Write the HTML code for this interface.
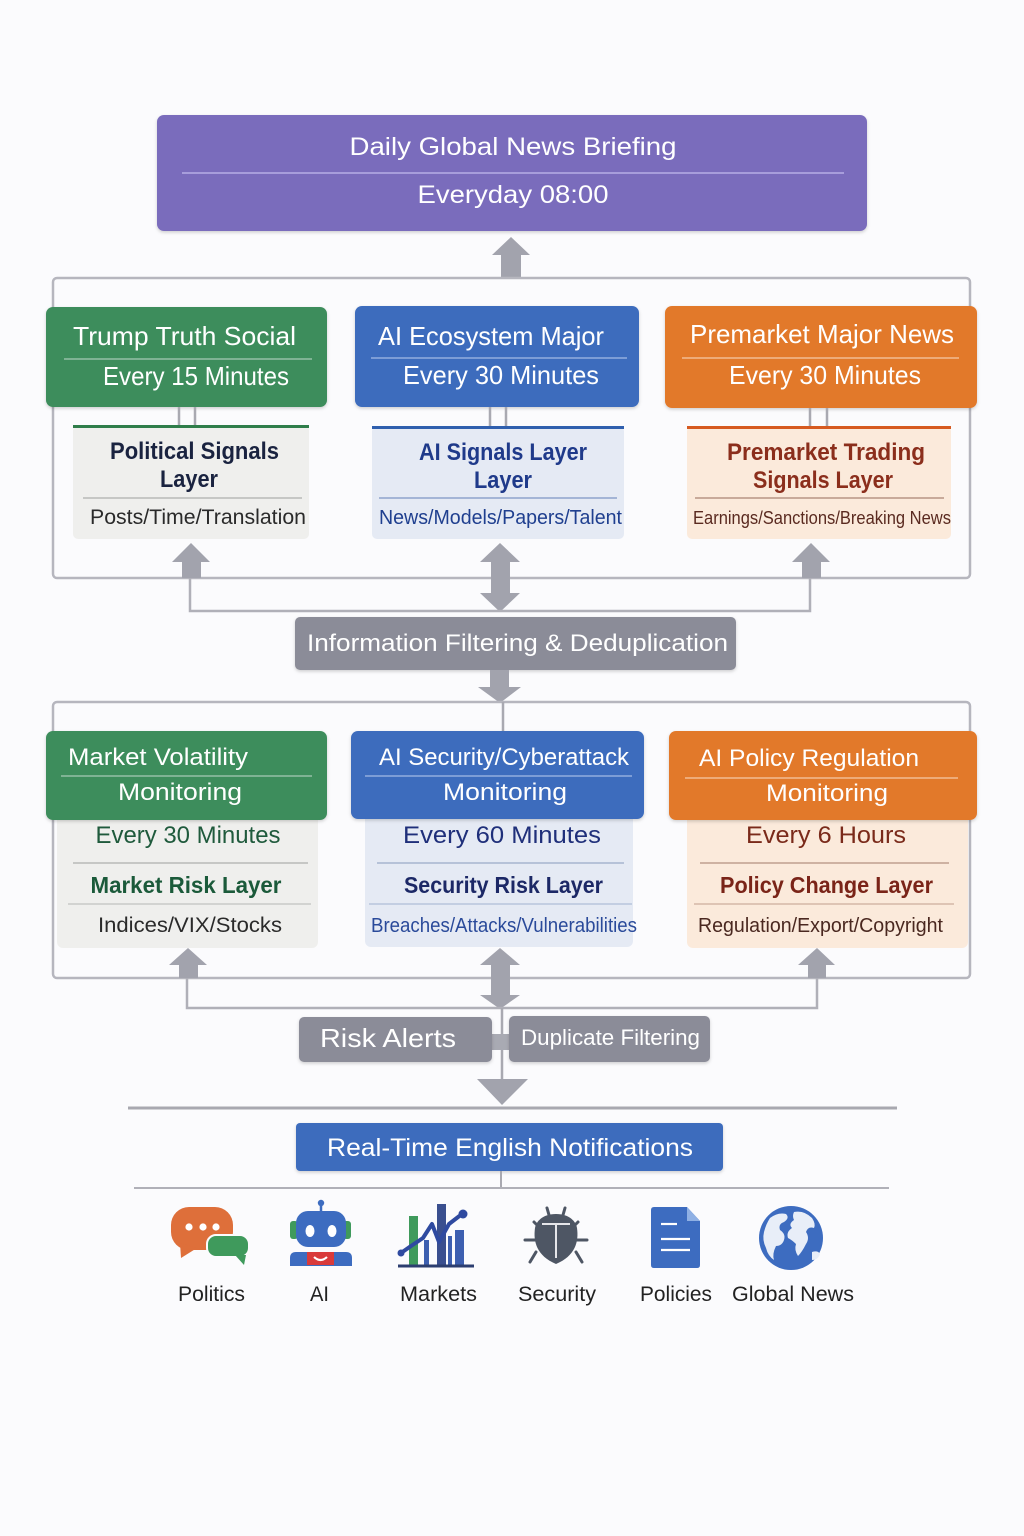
<!DOCTYPE html>
<html><head><meta charset="utf-8"><style>
html,body{margin:0;padding:0;background:#fbfbfd;}
svg{display:block;}
text{font-family:"Liberation Sans",Arial,sans-serif;}
</style></head><body>
<svg width="1024" height="1536" viewBox="0 0 1024 1536" xmlns="http://www.w3.org/2000/svg">
<defs>
<filter id="sh" x="-5%" y="-10%" width="110%" height="130%"><feDropShadow dx="0" dy="1.5" stdDeviation="1.5" flood-color="#000" flood-opacity="0.18"/></filter>
</defs>
<rect width="1024" height="1536" fill="#fbfbfd"/>

<!-- Top purple box -->
<rect x="157" y="115" width="710" height="116" rx="7" fill="#7a6cbc" filter="url(#sh)"/>
<line x1="182" y1="173" x2="844" y2="173" stroke="#a79ddb" stroke-width="2"/>
<text x="513" y="155" font-size="25" fill="#fff" text-anchor="middle" textLength="327" lengthAdjust="spacingAndGlyphs">Daily Global News Briefing</text>
<text x="513" y="203" font-size="25" fill="#fff" text-anchor="middle" textLength="191" lengthAdjust="spacingAndGlyphs">Everyday 08:00</text>

<!-- top arrow -->
<polygon points="511,237 492,255 501,255 501,278 521,278 521,255 530,255" fill="#a2a3ad"/>

<!-- top container -->
<rect x="53" y="278" width="917" height="300" rx="4" fill="none" stroke="#b6b6be" stroke-width="2.5"/>

<!-- header boxes row 1 -->
<rect x="46" y="307" width="281" height="100" rx="7" fill="#3e8d5b" filter="url(#sh)"/>
<line x1="64" y1="359" x2="312" y2="359" stroke="#7fb394" stroke-width="2"/>
<text x="184.5" y="345" font-size="26" fill="#fff" text-anchor="middle" textLength="223" lengthAdjust="spacingAndGlyphs">Trump Truth Social</text>
<text x="196" y="385" font-size="26" fill="#fff" text-anchor="middle" textLength="186" lengthAdjust="spacingAndGlyphs">Every 15 Minutes</text>

<rect x="355" y="306" width="284" height="101" rx="7" fill="#3c6cbd" filter="url(#sh)"/>
<line x1="371" y1="358" x2="627" y2="358" stroke="#7d9dd6" stroke-width="2"/>
<text x="491" y="345" font-size="26" fill="#fff" text-anchor="middle" textLength="226" lengthAdjust="spacingAndGlyphs">AI Ecosystem Major</text>
<text x="501" y="384" font-size="26" fill="#fff" text-anchor="middle" textLength="196" lengthAdjust="spacingAndGlyphs">Every 30 Minutes</text>

<rect x="665" y="306" width="312" height="102" rx="7" fill="#e2792a" filter="url(#sh)"/>
<line x1="682" y1="358" x2="959" y2="358" stroke="#eeab78" stroke-width="2"/>
<text x="822" y="343" font-size="26" fill="#fff" text-anchor="middle" textLength="264" lengthAdjust="spacingAndGlyphs">Premarket Major News</text>
<text x="825" y="384" font-size="26" fill="#fff" text-anchor="middle" textLength="192" lengthAdjust="spacingAndGlyphs">Every 30 Minutes</text>

<!-- double connectors -->
<g stroke="#a9a9b1" stroke-width="2.5">
<line x1="179" y1="407" x2="179" y2="426"/><line x1="195" y1="407" x2="195" y2="426"/>
<line x1="490" y1="407" x2="490" y2="427"/><line x1="506" y1="407" x2="506" y2="427"/>
<line x1="810" y1="408" x2="810" y2="427"/><line x1="827" y1="408" x2="827" y2="427"/>
</g>

<!-- sub boxes row 1 -->
<rect x="73" y="425" width="236" height="114" rx="5" fill="#efefed"/>
<rect x="73" y="425" width="236" height="3" fill="#2f7d4a"/>
<line x1="83" y1="498" x2="302" y2="498" stroke="#b9bab8" stroke-width="1.5"/>
<text x="194.5" y="459" font-size="24" font-weight="bold" fill="#1a2340" text-anchor="middle" textLength="169" lengthAdjust="spacingAndGlyphs">Political Signals</text>
<text x="189" y="487" font-size="24" font-weight="bold" fill="#1a2340" text-anchor="middle" textLength="58" lengthAdjust="spacingAndGlyphs">Layer</text>
<text x="198" y="524" font-size="21" fill="#2a2a2a" text-anchor="middle" textLength="216" lengthAdjust="spacingAndGlyphs">Posts/Time/Translation</text>

<rect x="372" y="426" width="252" height="113" rx="5" fill="#e5eaf4"/>
<rect x="372" y="426" width="252" height="3" fill="#2f5fae"/>
<line x1="379" y1="498" x2="617" y2="498" stroke="#8fa3cc" stroke-width="1.5"/>
<text x="503" y="460" font-size="24" font-weight="bold" fill="#1f3a8a" text-anchor="middle" textLength="168" lengthAdjust="spacingAndGlyphs">AI Signals Layer</text>
<text x="503" y="488" font-size="24" font-weight="bold" fill="#1f3a8a" text-anchor="middle" textLength="58" lengthAdjust="spacingAndGlyphs">Layer</text>
<text x="500.5" y="524" font-size="20" fill="#1f3f8f" text-anchor="middle" textLength="243" lengthAdjust="spacingAndGlyphs">News/Models/Papers/Talent</text>

<rect x="687" y="426" width="264" height="113" rx="5" fill="#fbeadb"/>
<rect x="687" y="426" width="264" height="3" fill="#d65a20"/>
<line x1="695" y1="498" x2="944" y2="498" stroke="#b89484" stroke-width="1.5"/>
<text x="826" y="460" font-size="24" font-weight="bold" fill="#8b2e1c" text-anchor="middle" textLength="198" lengthAdjust="spacingAndGlyphs">Premarket Trading</text>
<text x="823" y="488" font-size="24" font-weight="bold" fill="#8b2e1c" text-anchor="middle" textLength="140" lengthAdjust="spacingAndGlyphs">Signals Layer</text>
<text x="822" y="524" font-size="18" fill="#5a2a20" text-anchor="middle" textLength="258" lengthAdjust="spacingAndGlyphs">Earnings/Sanctions/Breaking News</text>

<!-- arrows row 1 bottom -->
<g fill="#a2a3ad">
<polygon points="191,543 172,562 182,562 182,578 201,578 201,562 210,562"/>
<polygon points="811,543 792,562 802,562 802,578 821,578 821,562 830,562"/>
<polygon points="500,543 480,562 491,562 491,593 480,593 500,612 520,593 510,593 510,562 520,562"/>
</g>
<g stroke="#b0b0b8" stroke-width="2.5" fill="none">
<polyline points="190,578 190,611 810,611 810,578"/>
</g>

<!-- filter box -->
<rect x="295" y="617" width="441" height="53" rx="5" fill="#8b8c98" filter="url(#sh)"/>
<text x="517.5" y="651" font-size="24" fill="#fff" text-anchor="middle" textLength="421" lengthAdjust="spacingAndGlyphs">Information Filtering &amp; Deduplication</text>
<polygon points="490,670 509,670 509,687 521,687 500,703 478,687 490,687" fill="#a2a3ad"/>

<!-- second container -->
<rect x="53" y="702" width="917" height="276" rx="4" fill="none" stroke="#b6b6be" stroke-width="2.5"/>
<line x1="503" y1="702" x2="503" y2="731" stroke="#a9a9b1" stroke-width="2.5"/>

<!-- row 2 sub boxes (behind headers) -->
<rect x="57" y="812" width="261" height="136" rx="6" fill="#efefed"/>
<rect x="365" y="812" width="268" height="135" rx="6" fill="#e5eaf4"/>
<rect x="687" y="812" width="281" height="136" rx="6" fill="#fbeadb"/>

<!-- row 2 headers -->
<rect x="46" y="731" width="281" height="89" rx="7" fill="#3e8d5b" filter="url(#sh)"/>
<line x1="61" y1="776" x2="312" y2="776" stroke="#7fb394" stroke-width="2"/>
<text x="68" y="765" font-size="24" fill="#fff" textLength="180" lengthAdjust="spacingAndGlyphs">Market Volatility</text>
<text x="180" y="800" font-size="24" fill="#fff" text-anchor="middle" textLength="124" lengthAdjust="spacingAndGlyphs">Monitoring</text>

<rect x="351" y="731" width="293" height="88" rx="7" fill="#3c6cbd" filter="url(#sh)"/>
<line x1="365" y1="776" x2="632" y2="776" stroke="#7d9dd6" stroke-width="2"/>
<text x="504" y="765" font-size="24" fill="#fff" text-anchor="middle" textLength="250" lengthAdjust="spacingAndGlyphs">AI Security/Cyberattack</text>
<text x="505" y="800" font-size="24" fill="#fff" text-anchor="middle" textLength="124" lengthAdjust="spacingAndGlyphs">Monitoring</text>

<rect x="669" y="731" width="308" height="89" rx="7" fill="#e2792a" filter="url(#sh)"/>
<line x1="685" y1="778" x2="958" y2="778" stroke="#eeab78" stroke-width="2"/>
<text x="809" y="766" font-size="24" fill="#fff" text-anchor="middle" textLength="220" lengthAdjust="spacingAndGlyphs">AI Policy Regulation</text>
<text x="827" y="801" font-size="24" fill="#fff" text-anchor="middle" textLength="122" lengthAdjust="spacingAndGlyphs">Monitoring</text>

<!-- row 2 sub content -->
<text x="188" y="843" font-size="24" fill="#1f5a3c" text-anchor="middle" textLength="185" lengthAdjust="spacingAndGlyphs">Every 30 Minutes</text>
<line x1="73" y1="863" x2="308" y2="863" stroke="#b9bab8" stroke-width="1.5"/>
<text x="186" y="893" font-size="23" font-weight="bold" fill="#1b5a3a" text-anchor="middle" textLength="191" lengthAdjust="spacingAndGlyphs">Market Risk Layer</text>
<line x1="68" y1="904" x2="311" y2="904" stroke="#c9cac8" stroke-width="1.5"/>
<text x="190" y="932" font-size="21" fill="#2a2a2a" text-anchor="middle" textLength="184" lengthAdjust="spacingAndGlyphs">Indices/VIX/Stocks</text>

<text x="502" y="843" font-size="24" fill="#1f2f7a" text-anchor="middle" textLength="198" lengthAdjust="spacingAndGlyphs">Every 60 Minutes</text>
<line x1="377" y1="863" x2="624" y2="863" stroke="#a7b4cf" stroke-width="1.5"/>
<text x="503.5" y="893" font-size="23" font-weight="bold" fill="#1c2866" text-anchor="middle" textLength="199" lengthAdjust="spacingAndGlyphs">Security Risk Layer</text>
<line x1="369" y1="904" x2="632" y2="904" stroke="#b8c4dc" stroke-width="1.5"/>
<text x="504" y="932" font-size="20" fill="#2a4a9a" text-anchor="middle" textLength="266" lengthAdjust="spacingAndGlyphs">Breaches/Attacks/Vulnerabilities</text>

<text x="826" y="843" font-size="24" fill="#7a2a1a" text-anchor="middle" textLength="160" lengthAdjust="spacingAndGlyphs">Every 6 Hours</text>
<line x1="700" y1="863" x2="949" y2="863" stroke="#c0a090" stroke-width="1.5"/>
<text x="826.5" y="893" font-size="23" font-weight="bold" fill="#7a2418" text-anchor="middle" textLength="213" lengthAdjust="spacingAndGlyphs">Policy Change Layer</text>
<line x1="694" y1="904" x2="954" y2="904" stroke="#d4b8a8" stroke-width="1.5"/>
<text x="820.5" y="932" font-size="20" fill="#4a2820" text-anchor="middle" textLength="245" lengthAdjust="spacingAndGlyphs">Regulation/Export/Copyright</text>

<!-- arrows row 2 bottom -->
<g fill="#a2a3ad">
<polygon points="188,948 169,965 179,965 179,978 198,978 198,965 207,965"/>
<polygon points="817,948 798,965 808,965 808,978 826,978 826,965 835,965"/>
<polygon points="500,948 480,965 491,965 491,995 480,995 500,1009 520,995 510,995 510,965 520,965"/>
</g>
<polyline points="187,978 187,1008 817,1008 817,978" stroke="#b0b0b8" stroke-width="2.5" fill="none"/>
<line x1="502" y1="1008" x2="502" y2="1082" stroke="#a9a9b1" stroke-width="2.5"/>
<rect x="491" y="1034" width="19" height="16" fill="#a9aab3"/>

<rect x="299" y="1017" width="193" height="45" rx="5" fill="#8b8c98" filter="url(#sh)"/>
<text x="388" y="1047" font-size="26" fill="#fff" text-anchor="middle" textLength="136" lengthAdjust="spacingAndGlyphs">Risk Alerts</text>
<rect x="509" y="1016" width="201" height="46" rx="5" fill="#8b8c98" filter="url(#sh)"/>
<text x="610.5" y="1045" font-size="22" fill="#fff" text-anchor="middle" textLength="179" lengthAdjust="spacingAndGlyphs">Duplicate Filtering</text>

<polygon points="477,1079 528,1079 502,1105" fill="#a2a3ad"/>
<line x1="128" y1="1108" x2="897" y2="1108" stroke="#a8a8b0" stroke-width="3"/>

<rect x="296" y="1123" width="427" height="48" rx="4" fill="#3c6cbd" filter="url(#sh)"/>
<text x="510" y="1156" font-size="25" fill="#fff" text-anchor="middle" textLength="366" lengthAdjust="spacingAndGlyphs">Real-Time English Notifications</text>
<line x1="501" y1="1171" x2="501" y2="1188" stroke="#a9a9b1" stroke-width="2"/>
<line x1="134" y1="1188" x2="889" y2="1188" stroke="#b0b0b8" stroke-width="2"/>

<!-- Icons -->
<!-- Politics -->
<g>
<rect x="171" y="1207" width="62" height="43" rx="18" fill="#de6f3a"/>
<polygon points="180,1243 197,1248 181,1258" fill="#de6f3a"/>
<circle cx="189" cy="1227" r="3.6" fill="#fff"/><circle cx="203" cy="1227" r="3.6" fill="#fff"/><circle cx="216" cy="1227" r="3.6" fill="#fff"/>
<rect x="207" y="1235" width="42" height="22" rx="9" fill="#3f9a5c" stroke="#fbfbfd" stroke-width="2"/>
<polygon points="235,1255 246,1255 244,1265" fill="#3f9a5c"/>
</g>
<!-- AI robot -->
<g>
<line x1="321" y1="1204" x2="321" y2="1212" stroke="#3d6cc0" stroke-width="2.5"/>
<circle cx="321" cy="1203" r="3.2" fill="#3d6cc0"/>
<rect x="290" y="1221" width="8" height="18" rx="3" fill="#3f9a5c"/>
<rect x="343" y="1221" width="8" height="18" rx="3" fill="#3f9a5c"/>
<rect x="296" y="1211" width="50" height="36" rx="12" fill="#3d6cc0"/>
<ellipse cx="310" cy="1231" rx="4.5" ry="6" fill="#fff"/>
<ellipse cx="332" cy="1231" rx="4.5" ry="6" fill="#fff"/>
<path d="M290 1266 v-8 q0-6 6-6 h50 q6 0 6 6 v8 z" fill="#3d6cc0"/>
<rect x="307" y="1252" width="27" height="13" fill="#d93a3a"/>
<path d="M314 1257 q6.5 6 13 0" stroke="#fff" stroke-width="2.2" fill="none"/>
</g>
<!-- Markets -->
<g>
<rect x="409" y="1216" width="9" height="50" fill="#3f9a5c"/>
<rect x="424" y="1240" width="5" height="26" fill="#3d5fb0"/>
<rect x="437" y="1204" width="9" height="62" fill="#3a4f8f"/>
<rect x="448" y="1236" width="4" height="30" fill="#3d5fb0"/>
<rect x="455" y="1230" width="9" height="36" fill="#3d5fb0"/>
<line x1="398" y1="1266" x2="474" y2="1266" stroke="#2c3e70" stroke-width="3"/>
<polyline points="401,1253 411,1246 423,1238 432,1224 439,1242 449,1224 462,1214" stroke="#2f4aa0" stroke-width="4" fill="none" stroke-linejoin="round"/>
<circle cx="401" cy="1253" r="3.5" fill="#2f4aa0"/><circle cx="463" cy="1214" r="4.5" fill="#2f4aa0"/>
</g>
<!-- Security bug -->
<g stroke="#4e5664" stroke-width="3" fill="none" stroke-linecap="round">
<line x1="547" y1="1208" x2="549" y2="1215"/><line x1="565" y1="1208" x2="563" y2="1215"/>
<line x1="534" y1="1222" x2="540" y2="1228"/><line x1="578" y1="1222" x2="572" y2="1228"/>
<line x1="525" y1="1240" x2="535" y2="1240"/><line x1="587" y1="1240" x2="577" y2="1240"/>
<path d="M536 1252 l-6 10"/><path d="M576 1252 l6 10"/>
</g>
<path d="M556 1214 c-14 0 -20 8 -21 14 c-2 14 2 28 21 36 c19 -8 23 -22 21 -36 c-1 -6 -7 -14 -21 -14 z" fill="#4e5664"/>
<line x1="542" y1="1224" x2="570" y2="1224" stroke="#e6e6ea" stroke-width="2"/>
<line x1="556" y1="1224" x2="556" y2="1258" stroke="#e6e6ea" stroke-width="2"/>
<!-- Policies document -->
<g>
<path d="M651 1210 q0-3 3-3 h33 l13 14 v44 q0 3-3 3 h-43 q-3 0-3-3 z" fill="#3d6cc0"/>
<path d="M687 1207 v14 h13 z" fill="#8fb0e4"/>
<line x1="661" y1="1224" x2="677" y2="1224" stroke="#fff" stroke-width="2.2"/>
<line x1="661" y1="1239" x2="690" y2="1239" stroke="#fff" stroke-width="2.2"/>
<line x1="661" y1="1250" x2="690" y2="1250" stroke="#fff" stroke-width="2.2"/>
</g>
<!-- Globe -->
<g>
<circle cx="791" cy="1238" r="32" fill="#3d6cc0"/>
<path d="M770 1218 q8 -6 16 -4 q4 4 -2 8 q-6 2 -4 8 q6 4 4 10 q-2 6 -8 6 q-4 8 -2 14 q-6 -4 -8 -12 q-4 -8 -2 -16 q2 -8 6 -14 z" fill="#e8eef8"/>
<path d="M794 1212 q10 -2 18 6 q4 6 2 10 q-6 -2 -8 4 q4 6 0 12 q-4 8 -8 12 q-4 -6 -2 -12 q-4 -4 -8 -6 q-2 -6 4 -10 q-4 -4 2 -8 q-2 -4 0 -8 z" fill="#e8eef8"/>
<path d="M812 1252 q6 -2 8 2 q-2 6 -8 6 z" fill="#e8eef8"/>
</g>

<!-- Icon labels -->
<g font-size="21" fill="#222">
<text x="211.5" y="1301" text-anchor="middle" textLength="67" lengthAdjust="spacingAndGlyphs">Politics</text>
<text x="319.5" y="1301" text-anchor="middle" textLength="19" lengthAdjust="spacingAndGlyphs">AI</text>
<text x="438.5" y="1301" text-anchor="middle" textLength="77" lengthAdjust="spacingAndGlyphs">Markets</text>
<text x="557" y="1301" text-anchor="middle" textLength="78" lengthAdjust="spacingAndGlyphs">Security</text>
<text x="676" y="1301" text-anchor="middle" textLength="72" lengthAdjust="spacingAndGlyphs">Policies</text>
<text x="793" y="1301" text-anchor="middle" textLength="122" lengthAdjust="spacingAndGlyphs">Global News</text>
</g>
</svg>
</body></html>
